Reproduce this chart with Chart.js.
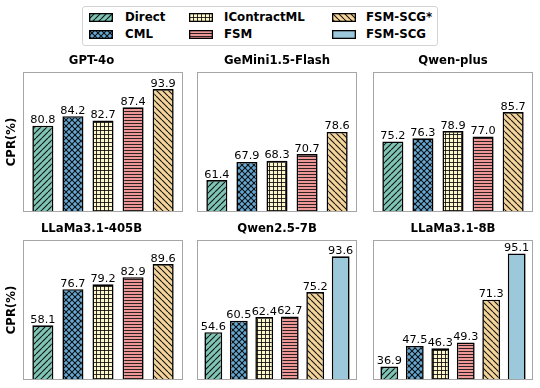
<!DOCTYPE html>
<html><head><meta charset="utf-8">
<script src="https://cdn.jsdelivr.net/npm/chart.js@4.4.0/dist/chart.umd.min.js"></script>
<style>
html,body{margin:0;padding:0;background:#fff;width:540px;height:388px;overflow:hidden;position:relative;font-family:'DejaVu Sans',sans-serif;}
canvas{position:absolute;display:block;}
#legend{position:absolute;left:82px;top:6px;width:356px;height:40px;border:1px solid #d4d4d4;border-radius:3px;box-sizing:border-box;background:#fff;}
.ltext{position:absolute;font-weight:bold;font-size:11.8px;line-height:14px;color:#000;white-space:nowrap;}
</style></head>
<body>
<div id="legend"></div>
<script>
// ---------------- data ----------------
const models = ['GPT-4o', 'GeMini1.5-Flash', 'Qwen-plus', 'LLaMa3.1-405B', 'Qwen2.5-7B', 'LLaMa3.1-8B'];
const methods = ['Direct', 'CML', 'IContractML', 'FSM', 'FSM-SCG*', 'FSM-SCG'];
const direct      = [80.8, 61.4, 75.2, 58.1, 54.6, 36.9];
const cml         = [84.2, 67.9, 76.3, 76.7, 60.5, 47.5];
const icontractml = [82.7, 68.3, 78.9, 79.2, 62.4, 46.3];
const fsm         = [87.4, 70.7, 77.0, 82.9, 62.7, 49.3];
const fsmScgStar  = [93.9, 78.6, 85.7, 89.6, 75.2, 71.3];
const fsmScg      = [null, null, null, null, 93.6, 95.1];
const yMin = [50, 50, 50, 30, 30, 30];
const yMax = [100, 100, 100, 102, 102, 102];
const yLabel = 'CPR(%)';

// ---------------- styles ----------------
const series = [direct, cml, icontractml, fsm, fsmScgStar, fsmScg];
const colors = ['#7fc4b4', '#67a8d3', '#fdf5cb', '#ee9797', '#f5d49b', '#9cc8dc'];
const hatches = ['/', 'x', '+', '-', '\\', ''];

function makePattern(bg, hatch) {
  if (!hatch) return bg;
  let s = 6;
  if (hatch === '+') s = 4;
  if (hatch === '-') s = 3;
  const c = document.createElement('canvas');
  c.width = s; c.height = s;
  const g = c.getContext('2d');
  g.fillStyle = bg; g.fillRect(0, 0, s, s);
  g.strokeStyle = 'rgba(10,10,10,0.95)';
  g.fillStyle = 'rgba(10,10,10,0.85)';
  g.lineWidth = 1.1;
  if (hatch === '/' || hatch === 'x') {
    g.beginPath();
    for (const o of [-s, 0, s]) { g.moveTo(o, s); g.lineTo(o + s, 0); }
    g.stroke();
  }
  if (hatch === '\\' || hatch === 'x') {
    g.beginPath();
    for (const o of [-s, 0, s]) { g.moveTo(o, 0); g.lineTo(o + s, s); }
    g.stroke();
  }
  if (hatch === '+') { g.fillRect(0, 0, 1, s); g.fillRect(0, 0, s, 1); }
  if (hatch === '-') { g.fillRect(0, 0, s, 1); }
  return g.createPattern(c, 'repeat');
}
const fills = colors.map((c, i) => makePattern(c, hatches[i]));

// ---------------- legend (HTML) ----------------
const legCols = [{p: 89, t: 125}, {p: 189, t: 224}, {p: 332, t: 366}];
const legRows = [17, 34];
methods.forEach((m, i) => {
  const col = Math.floor(i / 2), row = i % 2;
  const pc = document.createElement('canvas');
  pc.width = 24; pc.height = 9;
  pc.style.left = legCols[col].p + 'px';
  pc.style.top = (legRows[row] - 4.5) + 'px';
  document.body.appendChild(pc);
  const g = pc.getContext('2d');
  g.fillStyle = fills[i]; g.fillRect(0, 0, 24, 9);
  g.strokeStyle = '#000'; g.lineWidth = 1.3; g.strokeRect(0.65, 0.65, 22.7, 7.7);
  const d = document.createElement('div');
  d.className = 'ltext';
  d.textContent = m;
  d.style.left = legCols[col].t + 'px';
  d.style.top = (legRows[row] - 7) + 'px';
  document.body.appendChild(d);
});

// ---------------- plugins ----------------
const framePlugin = {
  id: 'frame',
  afterDraw(chart) {
    const a = chart.chartArea, ctx = chart.ctx;
    ctx.save();
    ctx.strokeStyle = '#a6a6a6'; ctx.lineWidth = 1;
    ctx.strokeRect(a.left + 0.5, a.top + 0.5, a.right - a.left - 1, a.bottom - a.top - 1);
    ctx.restore();
  }
};
const valuePlugin = {
  id: 'values',
  afterDatasetsDraw(chart) {
    const ctx = chart.ctx;
    ctx.save();
    ctx.font = '11.3px "DejaVu Sans"';
    ctx.fillStyle = '#000';
    ctx.textAlign = 'center';
    ctx.textBaseline = 'alphabetic';
    const meta = chart.getDatasetMeta(0);
    const ds = chart.data.datasets[0];
    meta.data.forEach((bar, k) => {
      ctx.fillText(ds.data[k].y.toFixed(1), bar.x, bar.y - 2.5);
    });
    ctx.restore();
  }
};

// ---------------- panels ----------------
const boxLefts = [23, 197, 373];
const boxTops = [72, 240];
const boxW = 160, boxH = 140, titleBlock = 18;

models.forEach((model, p) => {
  const row = Math.floor(p / 3), col = p % 3;
  const showY = col === 0;
  const left = showY ? 0 : boxLefts[col];
  const width = showY ? boxLefts[0] + boxW : boxW;
  const cv = document.createElement('canvas');
  cv.width = width; cv.height = titleBlock + boxH;
  cv.style.left = left + 'px';
  cv.style.top = (boxTops[row] - titleBlock) + 'px';
  document.body.appendChild(cv);

  const pts = [], bg = [];
  series.forEach((arr, j) => {
    if (arr[p] !== null && arr[p] !== undefined) { pts.push({x: pts.length, y: arr[p]}); bg.push(fills[j]); }
  });
  const n = pts.length;
  const pad = n === 5 ? 0.66 : 0.64;

  new Chart(cv, {
    type: 'bar',
    data: {
      datasets: [{
        data: pts,
        backgroundColor: bg,
        borderColor: '#000',
        borderWidth: 1.6,
        borderSkipped: false,
        barPercentage: 0.7,
        categoryPercentage: 1.0
      }]
    },
    options: {
      responsive: false,
      animation: false,
      devicePixelRatio: 1,
      layout: {padding: 0},
      plugins: {
        legend: {display: false},
        tooltip: {enabled: false},
        title: {
          display: true, text: model, color: '#000',
          font: {family: 'DejaVu Sans', weight: 'bold', size: 11.7, lineHeight: '14px'},
          padding: {top: 0, bottom: 4}
        }
      },
      scales: {
        x: {type: 'linear', min: -pad, max: n - 1 + pad, offset: false, display: false},
        y: {
          min: yMin[p], max: yMax[p],
          display: showY,
          ticks: {display: false},
          grid: {display: false, drawTicks: false, tickLength: 0},
          border: {display: false},
          title: {
            display: showY, text: yLabel, color: '#000',
            font: {family: 'DejaVu Sans', weight: 'bold', size: 11.7, lineHeight: '14px'},
            padding: {top: 5, bottom: 4}
          }
        }
      }
    },
    plugins: [framePlugin, valuePlugin]
  });
});
</script>
</body></html>
